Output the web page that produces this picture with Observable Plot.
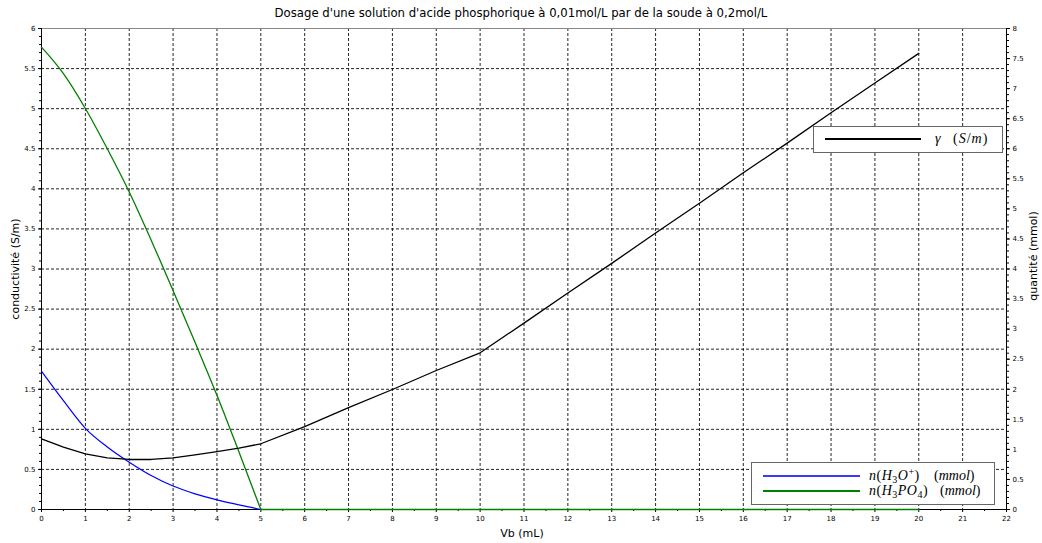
<!DOCTYPE html>
<html><head><meta charset="utf-8">
<script src="https://cdn.jsdelivr.net/npm/d3@7"></script>
<script src="https://cdn.jsdelivr.net/npm/@observablehq/plot@0.6"></script>
<style>
body{margin:0;background:#fff;}
#wrap{position:relative;width:1042px;height:543px;font-family:"DejaVu Sans",sans-serif;overflow:hidden;}
#title{position:absolute;left:0;top:0;width:1042px;height:22px;line-height:27px;text-align:center;font-size:11.7px;color:#000;}
#chart{position:absolute;left:0;top:22px;}
.leg{position:absolute;background:#fff;border:1px solid #666;box-sizing:border-box;}
.sw{position:absolute;height:2px;}
.tx{position:absolute;height:18px;line-height:18px;font-family:"Liberation Serif",serif;font-size:14px;white-space:nowrap;color:#000;}
.f{letter-spacing:0.5px;}
.tx sub{font-size:10px;vertical-align:-3px;line-height:0;}
.tx sup{font-size:10px;vertical-align:5px;line-height:0;}
</style></head>
<body>
<div id="wrap">
  <div id="title">Dosage d'une solution d'acide phosphorique à 0,01mol/L par de la soude à 0,2mol/L</div>
  <div id="chart"></div>
  <div class="leg" style="left:813px;top:126px;width:190px;height:27px;">
    <div class="sw" style="left:11px;top:11px;width:96px;background:#000;"></div>
    <div class="tx" style="left:121px;top:3px;"><i>γ</i></div>
    <div class="tx" style="left:139px;top:3px;letter-spacing:1px;">(<i>S</i>/<i>m</i>)</div>
  </div>
  <div class="leg" style="left:751px;top:462px;width:244px;height:43px;">
    <div class="sw" style="left:11px;top:12px;width:97px;background:#3a3aff;"></div>
    <div class="tx f" style="left:117px;top:4px;"><i>n</i>(<i>H</i><sub>3</sub><i>O</i><sup>+</sup>)</div>
    <div class="tx" style="left:182px;top:4px;">(<i>mmol</i>)</div>
    <div class="sw" style="left:11px;top:27px;width:97px;background:#008000;"></div>
    <div class="tx f" style="left:117px;top:19px;"><i>n</i>(<i>H</i><sub>3</sub><i>PO</i><sub>4</sub>)</div>
    <div class="tx" style="left:188px;top:19px;">(<i>mmol</i>)</div>
  </div>
</div>
<script>
// Tick values
const xTicks = [0,1,2,3,4,5,6,7,8,9,10,11,12,13,14,15,16,17,18,19,20,21,22];
const leftTicks = [0,0.5,1,1.5,2,2.5,3,3.5,4,4.5,5,5.5,6];
const rightTicks = [0,0.5,1,1.5,2,2.5,3,3.5,4,4.5,5,5.5,6,6.5,7,7.5,8];

// Conductivity gamma (S/m), left axis
const vbGamma = [0,0.5,1,1.5,2,2.5,3,3.5,4,4.5,5,6,7,8,9,10,11,12,13,14,15,16,17,18,19,20];
const gamma   = [0.882,0.777,0.694,0.645,0.624,0.624,0.645,0.682,0.723,0.765,0.82,1.035,1.27,1.497,1.734,1.955,2.325,2.70,3.07,3.45,3.82,4.20,4.57,4.95,5.32,5.69];

// Quantities (mmol), right axis
const vbQty  = [0,0.5,1,1.5,2,2.5,3,3.5,4,4.5,5];
const nH3O   = [2.30,1.81,1.35,1.04,0.787,0.565,0.39,0.26,0.16,0.078,0];
const nH3PO4 = [7.69,7.25,6.67,6.00,5.28,4.48,3.64,2.78,1.90,0.96,0];
const vbExcess = [5,20];
const nExcess  = [0,0];

const k = leftTicks[leftTicks.length-1] / rightTicks[rightTicks.length-1];
const xMinor = d3.range(0.5, 22, 1);
const leftMinor = d3.range(0, 6.001, 0.1);
const rightMinor = d3.range(0, 8.001, 0.1);

const gammaData = vbGamma.map((x,i)=>({x, y: gamma[i]}));
const h3oData = vbQty.map((x,i)=>({x, y: nH3O[i]*k}));
const h3po4Data = vbQty.map((x,i)=>({x, y: nH3PO4[i]*k}));
const excessData = vbExcess.map((x,i)=>({x, y: nExcess[i]*k}));

const gridStyle = {stroke:"#000", strokeOpacity:0.85, strokeDasharray:"3,2"};
const fmt = d => String(+d.toFixed(2));

const chart = Plot.plot({
  width: 1042, height: 521,
  marginTop: 6, marginBottom: 34, marginLeft: 41, marginRight: 36,
  style: {fontFamily: '"DejaVu Sans", sans-serif', background: "#fff", color: "#000"},
  x: {domain: [0, 22], label: null},
  y: {domain: [0, 6], label: null},
  marks: [
    Plot.gridX({ticks: xTicks.slice(1, -1), ...gridStyle}),
    Plot.gridY({ticks: leftTicks.slice(1, -1), ...gridStyle}),
    Plot.frame({stroke: "#888"}),
    Plot.axisX({ticks: xMinor, tickSize: 2, tickFormat: () => "", label: null}),
    Plot.axisX({ticks: xTicks, tickSize: 3, tickPadding: 4, fontSize: 7, tickFormat: fmt, label: null}),
    Plot.axisY({anchor: "left", ticks: leftMinor, tickSize: 2, tickFormat: () => "", label: null}),
    Plot.axisY({anchor: "left", ticks: leftTicks, tickSize: 3, tickPadding: 3, fontSize: 7, tickFormat: fmt, label: null}),
    Plot.axisY({anchor: "right", ticks: rightMinor.map(v => v*k), tickSize: 2, tickFormat: () => "", label: null}),
    Plot.axisY({anchor: "right", ticks: rightTicks.map(v => v*k), tickSize: 3, tickPadding: 3, fontSize: 7, tickFormat: d => fmt(d/k), label: null}),
    Plot.ruleY([0], {stroke: "#000"}),
    Plot.ruleX([0, 22], {stroke: "#000"}),
    Plot.line(excessData, {x: "x", y: "y", stroke: "#0000ff", strokeWidth: 1.2}),
    Plot.line(h3oData, {x: "x", y: "y", stroke: "#0000ff", strokeWidth: 1.2, curve: "monotone-x"}),
    Plot.line(excessData, {x: "x", y: "y", stroke: "#008000", strokeWidth: 1.3}),
    Plot.line(h3po4Data, {x: "x", y: "y", stroke: "#008000", strokeWidth: 1.3, curve: "monotone-x"}),
    Plot.line(gammaData, {x: "x", y: "y", stroke: "#000", strokeWidth: 1.3}),
    Plot.text(["conductivité (S/m)"], {text: d => d, frameAnchor: "left", textAnchor: "middle", lineAnchor: "middle", rotate: -90, dx: -26, fontSize: 11}),
    Plot.text(["quantité (mmol)"], {text: d => d, frameAnchor: "right", textAnchor: "middle", lineAnchor: "middle", rotate: -90, dx: 27, dy: -13, fontSize: 11}),
    Plot.text(["Vb (mL)"], {text: d => d, frameAnchor: "bottom", textAnchor: "middle", lineAnchor: "middle", dx: -2, dy: 24, fontSize: 11})
  ]
});
document.getElementById("chart").appendChild(chart);
</script>
</body></html>
